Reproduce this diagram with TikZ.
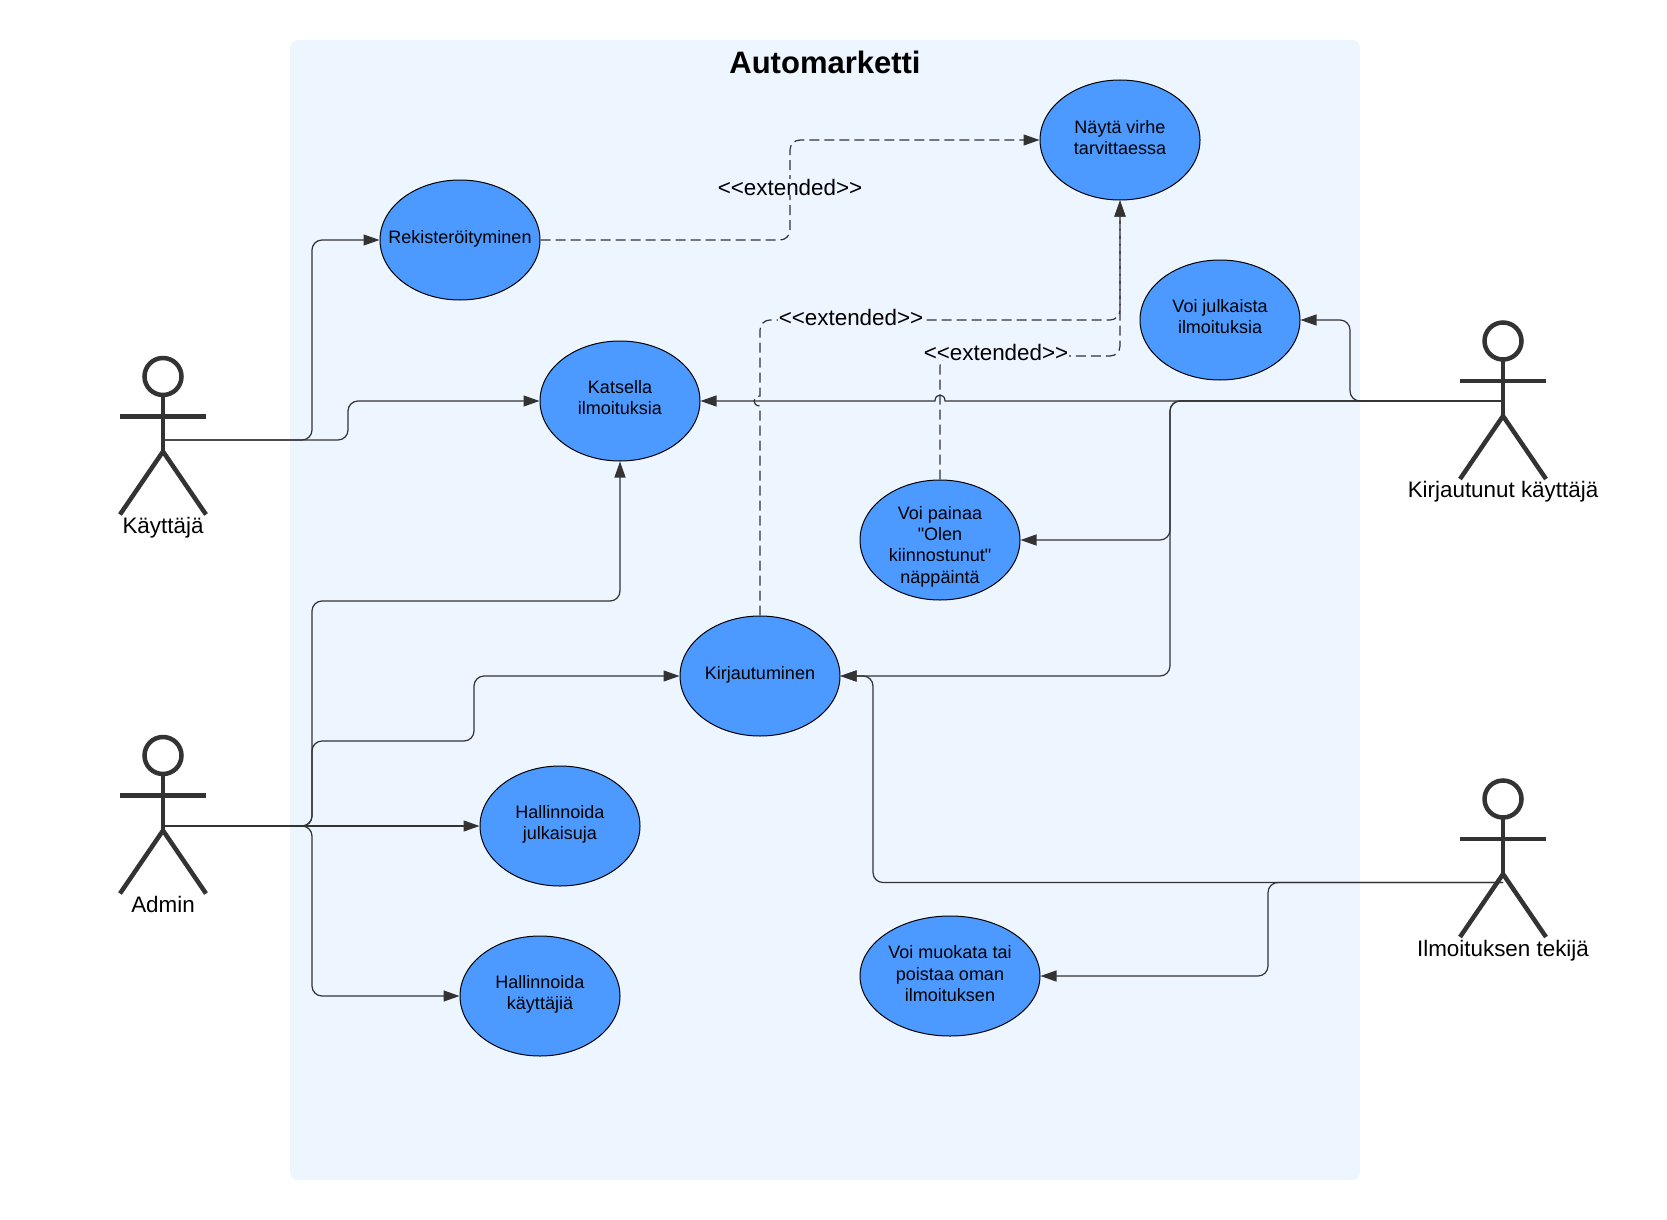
\documentclass[tikz,border=0pt]{standalone}
\usepackage{fontspec}
\setmainfont{Liberation Sans}
\newfontfamily\casefont{Liberation Sans}
\usepackage{tikz}
\usetikzlibrary{arrows.meta,shapes.geometric}
\definecolor{panelblue}{HTML}{EDF5FF}
\definecolor{caseblue}{HTML}{4C9AFF}
\definecolor{linegray}{HTML}{333333}
\tikzset{
  usecase/.style={ellipse,draw=black,line width=1pt,fill=caseblue,minimum width=160pt,minimum height=120pt,inner sep=0pt,align=center,text depth=7pt,font=\casefont\fontsize{18}{21.3}\selectfont},
  link/.style={draw=linegray,line width=1.2pt,rounded corners=10pt,-{Triangle[length=16pt,width=11pt]}},
  dashlink/.style={link,dash pattern=on 10pt off 5pt},
  extlabel/.style={fill=panelblue,inner xsep=1pt,inner ysep=0pt,font=\fontsize{22.4}{26}\selectfont},
  actorlabel/.style={font=\fontsize{22.4}{26}\selectfont},
  actorline/.style={draw=linegray,line width=4.5pt},
  actor/.pic={
    \draw[actorline] (0,0) circle (18.5);
    \draw[actorline] (0,20) -- (0,75);
    \draw[actorline] (-43,40) -- (43,40);
    \draw[actorline] (-43,138) -- (0,75) -- (43,138);
  }
}

\begin{document}
\begin{tikzpicture}[x=1pt,y=-1pt]
  \useasboundingbox (0,0) rectangle (1667,1220);
  % Panel
  \fill[panelblue,rounded corners=8pt] (290,40) rectangle (1360,1180);
  \node[font=\fontsize{31}{36}\bfseries\selectfont] (title) at (825,62) {Automarketti};
  % Use cases
  \node[usecase,text depth=5pt] (virhe) at (1120,140) {Näytä virhe\\tarvittaessa};
  \node[usecase,inner xsep=-30pt] (reki) at (460,240) {Rekisteröityminen};
  \node[usecase] (julkaista) at (1220,320) {Voi julkaista\\ilmoituksia};
  \node[usecase] (katsella) at (620,401) {Katsella\\ilmoituksia};
  \node[usecase,text height=90pt,text depth=4pt,inner ysep=-10pt] (painaa) at (940,540) {Voi painaa\\"Olen\\kiinnostunut"\\näppäintä};
  \node[usecase] (kirj) at (760,676) {Kirjautuminen};
  \node[usecase] (julkaisuja) at (560,826) {Hallinnoida\\julkaisuja};
  \node[usecase] (kayttajia) at (540,996) {Hallinnoida\\käyttäjiä};
  \node[usecase,minimum width=180pt,text depth=5pt] (muokata) at (950,976) {Voi muokata tai\\poistaa oman\\ilmoituksen};
  % Actors
  \pic at (163,376.5) {actor};
  \pic at (1503,341) {actor};
  \pic at (163,755.5) {actor};
  \pic at (1503,799) {actor};
  \node[actorlabel] (lblkayttaja) at (163,528) {Käyttäjä};
  \node[actorlabel] (lblkirjautunut) at (1503,492) {Kirjautunut käyttäjä};
  \node[actorlabel] (lbladmin) at (163,904) {Admin};
  \node[actorlabel] (lblilmoitus) at (1503,951) {Ilmoituksen tekijä};
  \coordinate (kayttaja) at (163,440);
  \coordinate (kirjautunut) at (1503,401);
  \coordinate (admin) at (163,826);
  \coordinate (adminarm) at (203,826);
  \coordinate (ilmoitus) at (1503,882.5);
  % Kayttaja
  \draw[link] (kayttaja) -- (312,440) -- (312,240) -- (reki.west);
  \draw[link] (kayttaja) -- (348,440) -- (348,401) -- (katsella.west);
  % Admin
  \draw[link] (adminarm) -- (312,826) -- (312,601) -- (620,601) -- (katsella.south);
  \draw[link] (adminarm) -- (312,826) -- (312,741) -- (474,741) -- (474,676) -- (kirj.west);
  \draw[link] (admin) -- (julkaisuja.west);
  \draw[link] (adminarm) -- (312,826) -- (312,996) -- (kayttajia.west);
  % Kirjautunut
  \draw[link] (kirjautunut) -- (1350,401) -- (1350,320) -- (julkaista.east);
  \draw[link,sharp corners] (kirjautunut) -- (945,401) .. controls (945,393) and (935,393) .. (935,401) -- (katsella.east);
  \draw[link] (kirjautunut) -- (1170,401) -- (1170,540) -- (painaa.east);
  \draw[link] (kirjautunut) -- (1170,401) -- (1170,676) -- (kirj.east);
  % Ilmoitus
  \draw[link] (ilmoitus) -- (873,882.5) -- (873,676) -- (kirj.east);
  \draw[link] (ilmoitus) -- (1268,882.5) -- (1268,976) -- (muokata.east);
  % Extended
  \draw[dashlink] (reki.east) -- (790,240) -- (790,140) -- (virhe.west);
  \draw[dashlink] (kirj.north) [sharp corners] -- (760,406) .. controls (752,406) and (752,396) .. (760,396) [rounded corners=10pt] -- (760,320) -- (1120,320) -- (virhe.south);
  \draw[dashlink] (painaa.north) -- (940,356) -- (1120,356) -- (virhe.south);
  \node[extlabel] (extreki) at (790,187) {<{}<extended>{}>};
  \node[extlabel] (extkirj) at (851,317) {<{}<extended>{}>};
  \node[extlabel] (extpainaa) at (996,352) {<{}<extended>{}>};
\end{tikzpicture}
\end{document}
